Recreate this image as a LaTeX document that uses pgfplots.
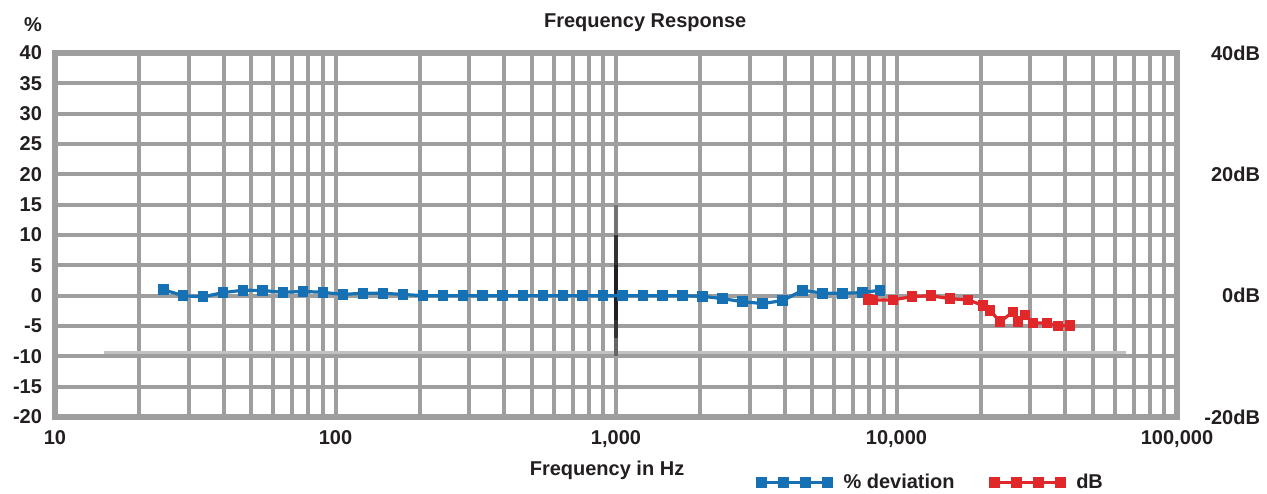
\documentclass[border=0pt]{standalone}
\usepackage{pgfplots}
\pgfplotsset{compat=1.18}
\usepackage{fontspec}
\setmainfont{Liberation Sans}
\definecolor{gridgray}{RGB}{158,158,158}
\definecolor{blueser}{RGB}{22,112,180}
\definecolor{redser}{RGB}{224,40,42}
\definecolor{lightg}{RGB}{194,194,194}
\definecolor{txt}{RGB}{35,31,32}
\begin{document}
\begin{tikzpicture}
\begin{axis}[
  at={(0,0)}, anchor=south west,
  scale only axis, width=561pt, height=182pt,
  xmode=log, xmin=10, xmax=100000, ymin=-20, ymax=40,
  xtick={10,100,1000,10000,100000},
  xticklabels={10,100,{1,000},{10,000},{100,000}},
  minor xtick={20,30,40,50,60,70,80,90,200,300,400,500,600,700,800,900,2000,3000,4000,5000,6000,7000,8000,9000,20000,30000,40000,50000,60000,70000,80000,90000},
  ytick={-20,-15,...,40},
  grid=both,
  major grid style={gridgray, line width=2pt},
  minor grid style={gridgray, line width=2pt},
  axis line style={gridgray, line width=2.6pt},
  major tick length=0pt, minor tick length=0pt,
  tick label style={font=\bfseries\fontsize{10}{12}\selectfont, text=txt},
  yticklabel style={xshift=-3pt},
  xticklabel style={yshift=-3pt},
  /pgf/number format/assume math mode=true,
  title={Frequency Response},
  title style={at={(0.526,1)}, anchor=center, yshift=9pt, font=\bfseries\fontsize{10}{12}\selectfont, text=txt},
  xlabel={Frequency in Hz},
  xlabel style={at={(0.492,0)}, anchor=center, yshift=-26.5pt, font=\bfseries\fontsize{10}{12}\selectfont, text=txt},
  legend style={at={(0.782,-0.181)}, anchor=center, draw=none, fill=none, legend columns=2,
    font=\bfseries\fontsize{10}{12}\selectfont, text=txt,
    /tikz/every odd column/.append style={column sep=4pt},
    /tikz/every even column/.append style={column sep=16pt}},
  legend image code/.code={\draw[#1] plot coordinates {(0pt,0pt) (11pt,0pt) (22pt,0pt) (33pt,0pt)};},
]
% light gray reference line
\addplot[lightg, line width=1.5pt, forget plot] coordinates {(15,-9.3) (65800,-9.3)};
% dark vertical marker at 1 kHz
\addplot[black!55, line width=1.6pt, forget plot] coordinates {(1000,10) (1000,15)};
\addplot[black!80, line width=1.6pt, forget plot] coordinates {(1000,5) (1000,10)};
\addplot[txt, line width=1.6pt, forget plot] coordinates {(1000,-4) (1000,5)};
\addplot[black!80, line width=1.6pt, forget plot] coordinates {(1000,-7) (1000,-4)};
\addplot[black!60, line width=1.6pt, forget plot] coordinates {(1000,-10) (1000,-7)};
% % deviation
\addplot[blueser, line width=1.6pt, mark=square*, mark size=1.9pt, mark options={solid}] table {
x y
24.3 1.0
28.6 0.0
33.7 -0.2
39.7 0.5
46.8 0.9
55.1 0.85
65.0 0.55
76.6 0.7
90.2 0.55
106.3 0.2
125.3 0.4
147.6 0.4
174 0.2
205 0.0
241.6 0
284.6 0
335 0
395 0
466 0
549 0
647 0
762 0
898 0
1058 0
1247 0
1469 0
1731 0
2040 -0.1
2403 -0.5
2832 -1.0
3337 -1.3
3932 -0.8
4633 0.9
5459 0.4
6432 0.4
7579 0.5
8730 0.9
};
\addlegendentry{\% deviation}
% dB
\addplot[redser, line width=1.6pt, mark=square*, mark size=1.9pt, mark options={solid}] table {
x y
7910 -0.6
8240 -0.7
9720 -0.7
11360 -0.15
13270 0
15520 -0.5
17990 -0.7
20330 -1.6
21530 -2.4
23380 -4.3
26010 -2.7
27100 -4.3
28700 -3.2
30680 -4.5
34420 -4.5
37670 -5.0
41560 -4.9
};
\addlegendentry{dB}
\end{axis}
\begin{axis}[
  at={(0,0)}, anchor=south west,
  scale only axis, width=561pt, height=182pt,
  xmode=log, xmin=10, xmax=100000, ymin=-20, ymax=40,
  hide x axis, axis y line*=right, axis line style={draw=none},
  ytick={-20,0,20,40}, yticklabels={-20dB,0dB,20dB,40dB},
  major tick length=0pt,
  tick label style={font=\bfseries\fontsize{10}{12}\selectfont, text=txt},
  yticklabel style={anchor=east, xshift=45pt},
]
\addplot[draw=none] coordinates {(10,0)};
\end{axis}
\node[font=\bfseries\fontsize{10}{12}\selectfont, text=txt] at (-11pt,196pt) {\%};
\pgfresetboundingbox
\path (-27.5pt,-38pt) rectangle (606pt,208.5pt);
\end{tikzpicture}
\end{document}
